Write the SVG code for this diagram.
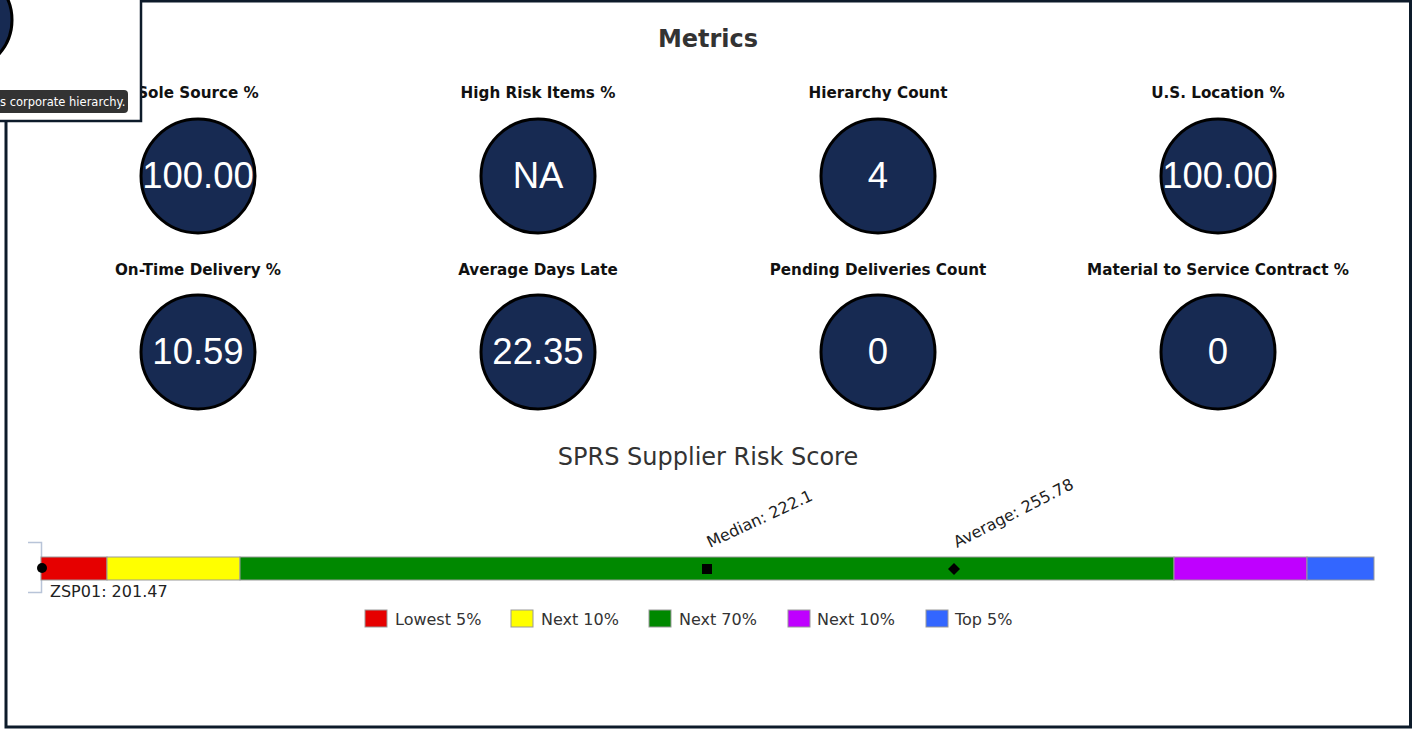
<svg xmlns="http://www.w3.org/2000/svg" width="1412" height="729" viewBox="0 0 1412 729">
<style>
.lbl{font-family:"DejaVu Sans",Verdana,sans-serif;font-weight:bold;font-size:15.2px;fill:#111;text-anchor:middle}
.val{font-family:"Liberation Sans",Arial,sans-serif;font-size:36.5px;fill:#fff;text-anchor:middle}
.ring{fill:#172a52;stroke:#000;stroke-width:3}
.leg{font-family:"DejaVu Sans",Verdana,sans-serif;font-size:16px;fill:#333}
.box{stroke:#999;stroke-width:1}
.ann{font-family:"DejaVu Sans",Verdana,sans-serif;font-size:16px;fill:#222}
</style>
<rect x="0" y="0" width="1412" height="729" fill="#fff"/>
<g id="frame">
<rect x="6" y="1" width="1404.5" height="726" fill="#fff" stroke="#0d1b2a" stroke-width="3"/>
</g>
<text x="708" y="47" font-family="DejaVu Sans,Verdana,sans-serif" font-weight="bold" font-size="24" fill="#333" text-anchor="middle">Metrics</text>
<g id="m1"><text class="lbl" x="198" y="98">Sole Source %</text><circle class="ring" cx="198" cy="176" r="57"/><text class="val" x="198" y="188">100.00</text></g>
<g id="m2"><text class="lbl" x="538" y="98">High Risk Items %</text><circle class="ring" cx="538" cy="176" r="57"/><text class="val" x="538" y="188">NA</text></g>
<g id="m3"><text class="lbl" x="878" y="98">Hierarchy Count</text><circle class="ring" cx="878" cy="176" r="57"/><text class="val" x="878" y="188">4</text></g>
<g id="m4"><text class="lbl" x="1218" y="98">U.S. Location %</text><circle class="ring" cx="1218" cy="176" r="57"/><text class="val" x="1218" y="188">100.00</text></g>
<g id="m5"><text class="lbl" x="198" y="275">On-Time Delivery %</text><circle class="ring" cx="198" cy="352" r="57"/><text class="val" x="198" y="364">10.59</text></g>
<g id="m6"><text class="lbl" x="538" y="275">Average Days Late</text><circle class="ring" cx="538" cy="352" r="57"/><text class="val" x="538" y="364">22.35</text></g>
<g id="m7"><text class="lbl" x="878" y="275">Pending Deliveries Count</text><circle class="ring" cx="878" cy="352" r="57"/><text class="val" x="878" y="364">0</text></g>
<g id="m8"><text class="lbl" x="1218" y="275">Material to Service Contract %</text><circle class="ring" cx="1218" cy="352" r="57"/><text class="val" x="1218" y="364">0</text></g>
<text x="708" y="465" font-family="DejaVu Sans,Verdana,sans-serif" font-size="24" fill="#333" text-anchor="middle">SPRS Supplier Risk Score</text>
<g id="bar">
<path d="M28 542.5H41.5V592.5H28" fill="none" stroke="#b8c4d8" stroke-width="1.5"/>
<rect class="box" x="41" y="557" width="66" height="23" fill="#e60000"/>
<rect class="box" x="107" y="557" width="133" height="23" fill="#ffff00"/>
<rect class="box" x="240" y="557" width="934" height="23" fill="#008800"/>
<rect class="box" x="1174" y="557" width="133" height="23" fill="#bf00ff"/>
<rect class="box" x="1307" y="557" width="67" height="23" fill="#3366ff"/>
<circle cx="42" cy="568" r="5" fill="#000"/>
<text class="ann" x="50" y="597">ZSP01: 201.47</text>
<rect x="702" y="564" width="10" height="10" fill="#000"/>
<path d="M954 563L960 569L954 575L948 569Z" fill="#000"/>
<text class="ann" transform="translate(710 548) rotate(-25)">Median: 222.1</text>
<text class="ann" transform="translate(957 548) rotate(-27)">Average: 255.78</text>
</g>
<g id="legend">
<rect class="box" x="365" y="610" width="22" height="17" fill="#e60000"/><text class="leg" x="395" y="625">Lowest 5%</text>
<rect class="box" x="511" y="610" width="22" height="17" fill="#ffff00"/><text class="leg" x="541" y="625">Next 10%</text>
<rect class="box" x="649" y="610" width="22" height="17" fill="#008800"/><text class="leg" x="679" y="625">Next 70%</text>
<rect class="box" x="788" y="610" width="22" height="17" fill="#bf00ff"/><text class="leg" x="817" y="625">Next 10%</text>
<rect class="box" x="926" y="610" width="22" height="17" fill="#3366ff"/><text class="leg" x="955" y="625">Top 5%</text>
</g>
<g id="popup">
<rect x="-2" y="-2" width="143" height="123" fill="#fff" stroke="#0d1b2a" stroke-width="2.5"/>
<circle cx="-39" cy="20" r="51" fill="#172a52" stroke="#000" stroke-width="3"/>
<rect x="-10" y="90" width="138" height="23" rx="4" fill="#333"/>
<text x="0" y="106" font-family="DejaVu Sans,Verdana,sans-serif" font-size="11.5" fill="#fff">s corporate hierarchy.</text>
</g>
</svg>
